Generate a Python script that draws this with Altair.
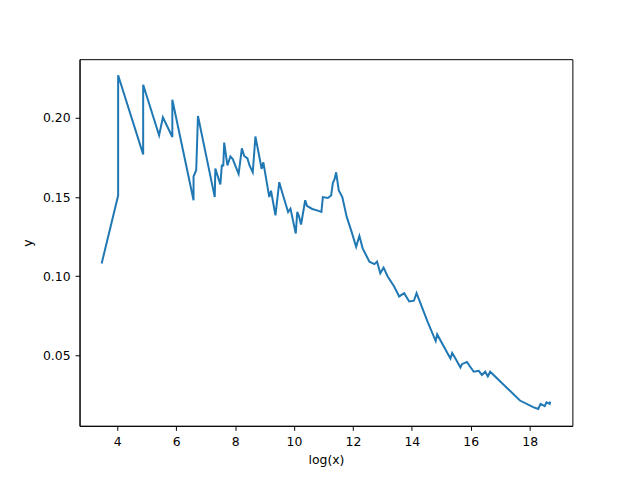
import altair as alt
import pandas as pd

log_x = [3.47, 4.03, 4.03, 4.88, 4.88, 5.42, 5.55, 5.87, 5.87, 6.59, 6.59, 6.68, 6.74,
         7.31, 7.33, 7.50, 7.55, 7.60, 7.63, 7.74, 7.84, 7.92, 8.12, 8.15, 8.23, 8.31,
         8.42, 8.49, 8.60, 8.69, 8.85, 8.90, 8.96, 9.16, 9.22, 9.37, 9.50, 9.58, 9.63,
         9.80, 9.88, 10.06, 10.11, 10.16, 10.24, 10.38, 10.44, 10.51, 10.62, 10.78, 10.93,
         10.98, 11.15, 11.26, 11.32, 11.38, 11.43, 11.52, 11.64, 11.79, 11.94, 12.11,
         12.22, 12.33, 12.56, 12.73, 12.82, 12.93, 13.04, 13.18, 13.40, 13.57, 13.74,
         13.91, 14.07, 14.16, 14.53, 14.81, 14.86, 15.31, 15.37, 15.48, 15.65, 15.70,
         15.87, 16.10, 16.27, 16.38, 16.49, 16.58, 16.66, 17.67, 18.12, 18.29, 18.37,
         18.51, 18.57, 18.68, 18.70]
y_vals = [0.108, 0.151, 0.227, 0.177, 0.221, 0.189, 0.2005, 0.188, 0.2115, 0.148, 0.163,
          0.167, 0.2013, 0.150, 0.168, 0.158, 0.170, 0.170, 0.1845, 0.170, 0.1757, 0.174,
          0.1647, 0.169, 0.1808, 0.176, 0.1745, 0.170, 0.1657, 0.1883, 0.173, 0.1678,
          0.172, 0.150, 0.154, 0.1385, 0.1594, 0.1542, 0.151, 0.1406, 0.1427, 0.127,
          0.1406, 0.1385, 0.1327, 0.148, 0.1445, 0.1437, 0.1425, 0.1416, 0.1406, 0.150,
          0.1494, 0.151, 0.159, 0.1615, 0.1657, 0.1542, 0.150, 0.1375, 0.129, 0.1186,
          0.1255, 0.1176, 0.1092, 0.1076, 0.1092, 0.1019, 0.1054, 0.0998, 0.0935, 0.0872,
          0.0893, 0.084, 0.0845, 0.0893, 0.0715, 0.059, 0.0632, 0.048, 0.0515, 0.048,
          0.0423, 0.0444, 0.0458, 0.0396, 0.0402, 0.0375, 0.0396, 0.0367, 0.0396, 0.0214,
          0.0172, 0.0161, 0.0193, 0.0178, 0.0203, 0.0193, 0.0207]

x_ticks = [4, 6, 8, 10, 12, 14, 16, 18]
y_ticks = [0.05, 0.10, 0.15, 0.20]

df = pd.DataFrame({"log_x": log_x, "y": y_vals, "idx": list(range(len(log_x)))})

FONT = "DejaVu Sans"

chart = alt.Chart(df).mark_line(color="#1f77b4", strokeWidth=2).encode(
    x=alt.X("log_x:Q", title="log(x)",
            scale=alt.Scale(domain=[2.72, 19.45], nice=False, zero=False),
            axis=alt.Axis(values=x_ticks, format="d", grid=False, titlePadding=6)),
    y=alt.Y("y:Q", title="y",
            scale=alt.Scale(domain=[0.0054, 0.2372], nice=False, zero=False),
            axis=alt.Axis(values=y_ticks, format=".2f", grid=False, titlePadding=8)),
    order=alt.Order("idx:Q"),
).properties(
    width=496, height=369,
    autosize=alt.AutoSizeParams(type="none"),
    padding={"left": 72, "top": 50, "right": 60, "bottom": 50},
).configure_view(
    stroke="black", strokeWidth=1
).configure_axis(
    domainColor="black", domainWidth=1,
    tickColor="black", tickSize=4.5, tickWidth=1,
    labelColor="black", labelFont=FONT, labelFontSize=12.5, labelPadding=5,
    titleColor="black", titleFont=FONT, titleFontSize=12.5, titleFontWeight="normal",
)

chart.save("out.html", embed_options={"renderer": "svg", "actions": False})
